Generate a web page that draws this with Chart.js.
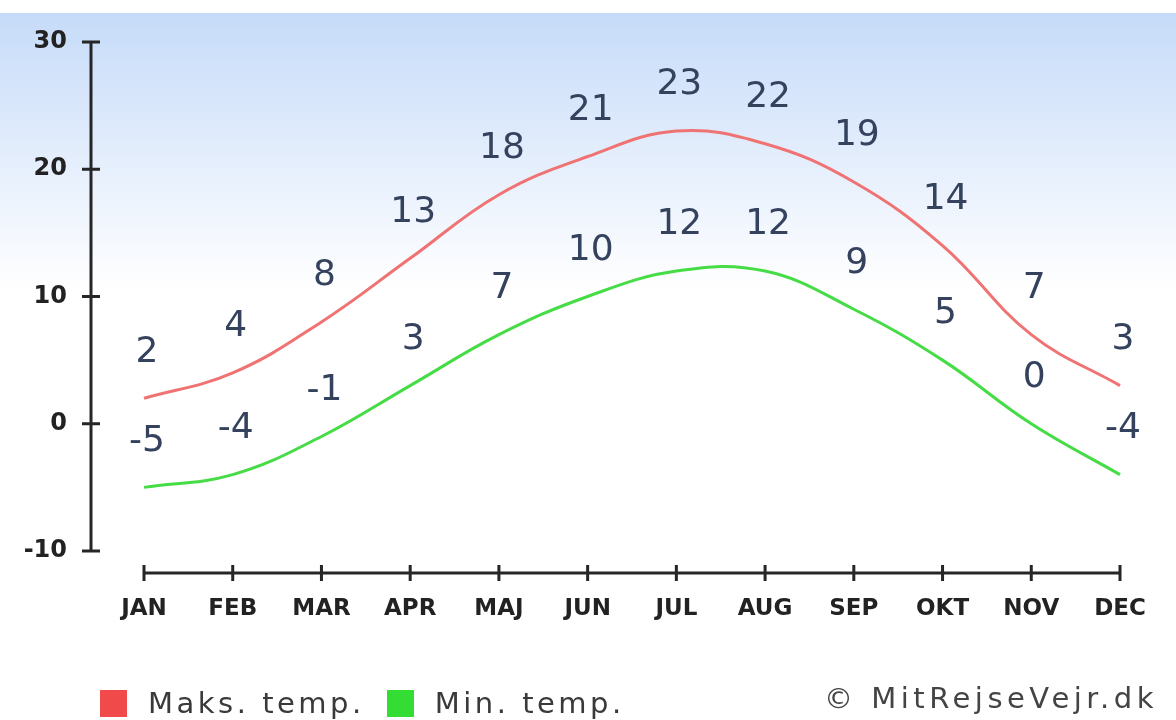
<!DOCTYPE html>
<html>
<head>
<meta charset="utf-8">
<script src="https://cdn.jsdelivr.net/npm/chart.js@4.4.1/dist/chart.umd.min.js"></script>
<style>
  body { margin: 0; background: #fff; }
  #wrap { position: relative; width: 1176px; height: 720px; overflow: hidden; }
  #chart { position: absolute; left: 0; top: 0; }
  #legend { position: absolute; left: 100px; top: 686px; display: flex; align-items: center; }
  .item { display: flex; align-items: center; margin-right: 22px; }
  .box { width: 27px; height: 27px; margin-right: 21px; }
  .item span, #credit {
    font-family: "DejaVu Sans", sans-serif; font-size: 29px; letter-spacing: 3.5px; color: #3a3a3a;
  }
  #credit { position: absolute; right: 18px; top: 681px; color: #444; letter-spacing: 4.5px; }
</style>
</head>
<body>
<div id="wrap">
  <canvas id="chart" width="1176" height="720"></canvas>
  <div id="legend"></div>
  <div id="credit">© MitRejseVejr.dk</div>
</div>
<script>
var months = ['JAN', 'FEB', 'MAR', 'APR', 'MAJ', 'JUN', 'JUL', 'AUG', 'SEP', 'OKT', 'NOV', 'DEC']
var maxTemps = [2, 4, 8, 13, 18, 21, 23, 22, 19, 14, 7, 3]
var minTemps = [-5, -4, -1, 3, 7, 10, 12, 12, 9, 5, 0, -4]
var yTicks = [-10, 0, 10, 20, 30]

var seriesNames = ['Maks. temp.', 'Min. temp.']
var lineColours = ['#f07373', '#45dc45']
var boxColours = ['#f04a4a', '#33dd33']

// blue fade behind the plot, white from the middle down
var skyFill = {
  id: 'skyFill',
  beforeDraw: function (chart) {
    var ctx = chart.ctx
    ctx.save()
    ctx.fillStyle = '#ffffff'
    ctx.fillRect(0, 0, chart.width, chart.height)
    var g = ctx.createLinearGradient(0, 13, 0, 290)
    g.addColorStop(0, '#c6dbf9')
    g.addColorStop(1, '#ffffff')
    ctx.fillStyle = g
    ctx.fillRect(0, 13, chart.width, 277)
    ctx.restore()
  }
}

// the two detached axis lines with their tick marks
var axisLines = {
  id: 'axisLines',
  afterDraw: function (chart) {
    var ctx = chart.ctx
    var xs = chart.scales.x
    var ys = chart.scales.y
    var ax = chart.chartArea.left - 53
    var ay = chart.chartArea.bottom + 22
    ctx.save()
    ctx.strokeStyle = '#262626'
    ctx.lineWidth = 3
    ctx.beginPath()
    ctx.moveTo(ax, ys.getPixelForValue(yTicks[yTicks.length - 1]))
    ctx.lineTo(ax, ys.getPixelForValue(yTicks[0]))
    yTicks.forEach(function (v) {
      var py = ys.getPixelForValue(v)
      ctx.moveTo(ax - 9, py)
      ctx.lineTo(ax + 9, py)
    })
    ctx.moveTo(xs.getPixelForValue(0), ay)
    ctx.lineTo(xs.getPixelForValue(months.length - 1), ay)
    for (var i = 0; i < months.length; i++) {
      var px = xs.getPixelForValue(i)
      ctx.moveTo(px, ay - 8)
      ctx.lineTo(px, ay + 8)
    }
    ctx.stroke()
    ctx.restore()
  }
}

// value written above each point
var valueLabels = {
  id: 'valueLabels',
  afterDatasetsDraw: function (chart) {
    var ctx = chart.ctx
    ctx.save()
    ctx.font = '36px "DejaVu Sans"'
    ctx.fillStyle = '#34425e'
    ctx.textAlign = 'center'
    ctx.textBaseline = 'middle'
    chart.data.datasets.forEach(function (ds, di) {
      chart.getDatasetMeta(di).data.forEach(function (pt, i) {
        ctx.fillText(String(ds.data[i]), pt.x + 3, pt.y - 46)
      })
    })
    ctx.restore()
  }
}

var chart = new Chart(document.getElementById('chart'), {
  type: 'line',
  data: {
    labels: months,
    datasets: [
      { label: seriesNames[0], data: maxTemps, borderColor: lineColours[0] },
      { label: seriesNames[1], data: minTemps, borderColor: lineColours[1] }
    ]
  },
  options: {
    responsive: false,
    animation: false,
    layout: { padding: { top: 42, right: 56, bottom: 0, left: 0 } },
    elements: {
      line: { borderWidth: 3, tension: 0.4, fill: false },
      point: { radius: 0 }
    },
    plugins: { legend: { display: false }, tooltip: { enabled: false } },
    scales: {
      x: {
        offset: false,
        grid: { display: false, drawTicks: false },
        border: { display: false },
        ticks: {
          color: '#222',
          font: { family: 'DejaVu Sans', size: 23, weight: 'bold' },
          padding: 44,
          maxRotation: 0,
          autoSkip: false
        },
        afterFit: function (s) {
          s.height = 169
          s.paddingLeft = 0
          s.paddingRight = 0
        }
      },
      y: {
        min: yTicks[0],
        max: yTicks[yTicks.length - 1],
        grid: { display: false, drawTicks: false },
        border: { display: false },
        ticks: {
          stepSize: 10,
          color: '#222',
          font: { family: 'DejaVu Sans', size: 24, weight: 'bold' },
          padding: 77
        },
        afterFit: function (s) {
          s.width = 144
          s.paddingTop = 0
          s.paddingBottom = 0
        }
      }
    }
  },
  plugins: [skyFill, axisLines, valueLabels]
})

// legend boxes built from the datasets
var legend = document.getElementById('legend')
chart.data.datasets.forEach(function (ds, i) {
  var item = document.createElement('div')
  item.className = 'item'
  var box = document.createElement('div')
  box.className = 'box'
  box.style.background = boxColours[i]
  var txt = document.createElement('span')
  txt.textContent = ds.label
  item.appendChild(box)
  item.appendChild(txt)
  legend.appendChild(item)
})
</script>
</body>
</html>
